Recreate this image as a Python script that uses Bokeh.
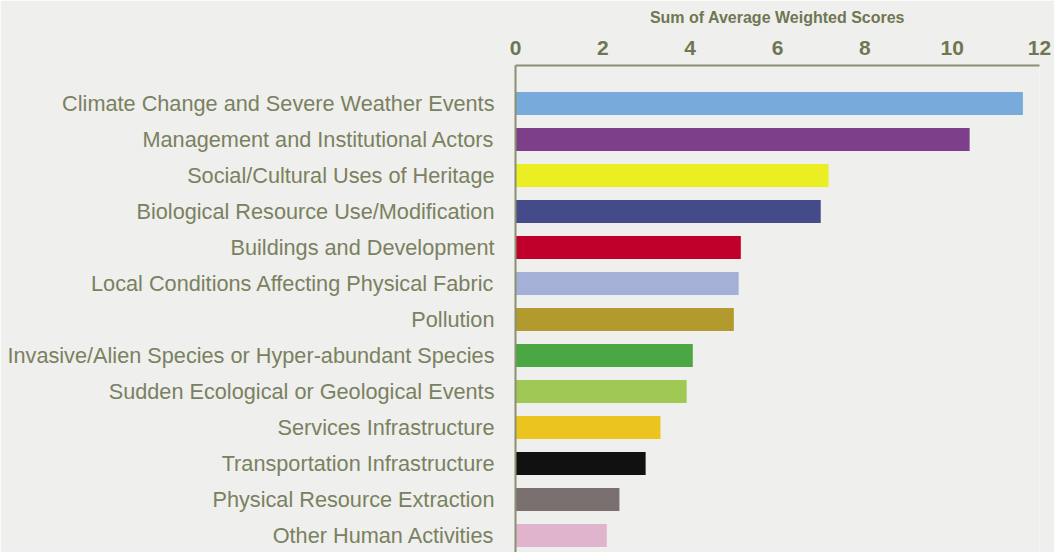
from bokeh.plotting import figure
from bokeh.models import Range1d, LinearAxis, FixedTicker, ColumnDataSource
from bokeh.embed import file_html
from bokeh.resources import INLINE
import numpy as np

categories = [
    "Climate Change and Severe Weather Events",
    "Management and Institutional Actors",
    "Social/Cultural Uses of Heritage",
    "Biological Resource Use/Modification",
    "Buildings and Development",
    "Local Conditions Affecting Physical Fabric",
    "Pollution",
    "Invasive/Alien Species or Hyper-abundant Species",
    "Sudden Ecological or Geological Events",
    "Services Infrastructure",
    "Transportation Infrastructure",
    "Physical Resource Extraction",
    "Other Human Activities",
]
scores = [11.62, 10.40, 7.17, 6.99, 5.16, 5.11, 5.00, 4.06, 3.92, 3.32, 2.98, 2.38, 2.09]
colors = ["#78aadc", "#7e3f8a", "#ebee23", "#454a8a", "#c0002a", "#a4b0d6", "#b29a2e",
          "#4aa744", "#9fc855", "#ebc41f", "#111111", "#7a7070", "#e0b4cc"]
x_ticks = [0, 2, 4, 6, 8, 10, 12]
x_title = "Sum of Average Weighted Scores"

BG = "#efefed"
TXT = "#7a8160"
AX = "#6f7752"

pos = np.arange(len(categories))
src = ColumnDataSource(dict(y=pos, right=scores, color=colors, name=categories))

p = figure(width=1054, height=552, output_backend="svg", toolbar_location=None,
           x_range=Range1d(0, 12), y_range=Range1d(len(categories) - 1 + 17 / 36, -38 / 36),
           x_axis_location=None, y_axis_location=None,
           min_border_left=515, min_border_right=15, min_border_top=65, min_border_bottom=0)
p.background_fill_color = BG
p.border_fill_color = BG
p.outline_line_color = None
p.xgrid.visible = False
p.ygrid.visible = False

p.hbar(y="y", left=0, right="right", height=0.64, color="color", line_color=None, source=src)

xa = LinearAxis(ticker=FixedTicker(ticks=x_ticks), axis_label=x_title)
xa.axis_line_color = "#8b9070"
xa.axis_line_width = 2
xa.major_tick_line_color = None
xa.minor_tick_line_color = None
xa.major_label_text_font = "Liberation Sans"
xa.major_label_text_font_style = "bold"
xa.major_label_text_font_size = "21px"
xa.major_label_text_color = AX
xa.major_label_standoff = 5
xa.axis_label_text_font = "Liberation Sans"
xa.axis_label_text_font_style = "bold"
xa.axis_label_text_font_size = "16px"
xa.axis_label_text_color = AX
xa.axis_label_standoff = 12
p.add_layout(xa, "above")

ya = LinearAxis(ticker=FixedTicker(ticks=list(pos)))
ya.major_label_overrides = {int(i): c for i, c in zip(pos, categories)}
ya.axis_line_color = "#8b9070"
ya.axis_line_width = 2
ya.major_tick_line_color = None
ya.minor_tick_line_color = None
ya.major_label_text_font = "Liberation Sans"
ya.major_label_text_font_size = "21.7px"
ya.major_label_text_color = TXT
ya.major_label_standoff = 15
p.add_layout(ya, "left")

open("out.html", "w").write(file_html(p, INLINE))
